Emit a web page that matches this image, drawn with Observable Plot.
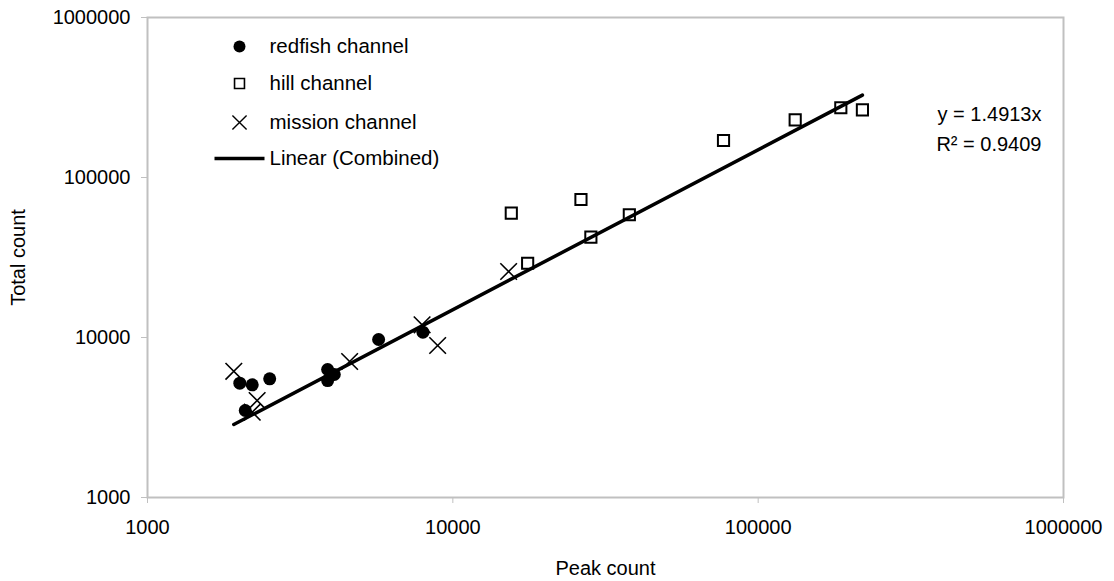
<!DOCTYPE html>
<html><head><meta charset="utf-8">
<script src="https://cdn.jsdelivr.net/npm/d3@7"></script>
<script src="https://cdn.jsdelivr.net/npm/@observablehq/plot@0.6"></script>
<style>
body{margin:0;background:#fff;}
svg{font-family:"Liberation Sans",Arial,sans-serif;}
</style>
</head><body><div id="chart"></div>
<script>
// Series data (peak count, total count)
const redfishPeak  = [2006, 2203, 2513, 2090, 3890, 3890, 4090, 5714, 7980];
const redfishTotal = [5180, 5058, 5518, 3498, 6310, 5382, 5870, 9716, 10790];

const hillPeak  = [15540, 17580, 26280, 28320, 37850, 77000, 132200, 186500, 219500];
const hillTotal = [59840, 29100, 72870, 42360, 58470, 170300, 229400, 272700, 264800];

const missionPeak  = [1917, 2286, 2203, 4592, 7930, 8918, 15230];
const missionTotal = [6150, 4036, 3414, 7079, 12000, 8913, 25850];

const seriesNames = ["redfish channel", "hill channel", "mission channel", "Linear (Combined)"];
const trendSlope = 1.4913;
const trendLabel = "y = 1.4913x";
const r2Label = "R\u00B2 = 0.9409";

const axisTicks = [1000, 10000, 100000, 1000000];
const xTitle = "Peak count";
const yTitle = "Total count";

const rows = (xs, ys) => xs.map((x, i) => ({x, y: ys[i]}));
const redfish = rows(redfishPeak, redfishTotal);
const hill = rows(hillPeak, hillTotal);
const mission = rows(missionPeak, missionTotal);
const allPeak = [...redfishPeak, ...hillPeak, ...missionPeak];
const xMin = d3.min(allPeak), xMax = d3.max(allPeak);
const trend = [xMin, xMax].map(x => ({x, y: trendSlope * x}));

const lineSymbol = {draw(ctx, size) { ctx.moveTo(-25, 0); ctx.lineTo(25, 0); }};

const FS = 20;
const LFS = 20.5;
const legendX = 92;
const legendRows = [29, 66, 105, 141];

const plot = Plot.plot({
  width: 1114,
  height: 581,
  marginLeft: 147,
  marginRight: 51,
  marginTop: 17,
  marginBottom: 84,
  style: {fontSize: FS + "px", fontFamily: '"Liberation Sans", Arial, sans-serif', background: "#fff", color: "#000"},
  x: {type: "log", domain: [1000, 1000000]},
  y: {type: "log", domain: [1000, 1000000]},
  marks: [
    Plot.frame({stroke: "#c0c0c0", strokeWidth: 2}),
    Plot.axisX({ticks: axisTicks, tickFormat: d => String(d), tickSize: 6, tickPadding: 16, stroke: "#c0c0c0", fill: "#000", label: null, fontSize: FS}),
    Plot.axisY({ticks: axisTicks, tickFormat: d => String(d), tickSize: 6, tickPadding: 11, stroke: "#c0c0c0", fill: "#000", label: null, fontSize: FS}),
    Plot.text([xTitle], {frameAnchor: "bottom", dy: 71, text: d => d, fontSize: FS, lineAnchor: "middle", textAnchor: "middle"}),
    Plot.text([yTitle], {frameAnchor: "left", dx: -129, rotate: -90, text: d => d, fontSize: FS, lineAnchor: "middle", textAnchor: "middle"}),
    Plot.line(trend, {x: "x", y: "y", stroke: "#000", strokeWidth: 3.5}),
    Plot.dot(hill, {x: "x", y: "y", symbol: "square", r: 6.3, stroke: "#000", strokeWidth: 2, fill: "none"}),
    Plot.dot(redfish, {x: "x", y: "y", symbol: "circle", r: 6.5, fill: "#000", stroke: "none"}),
    Plot.dot(mission, {x: "x", y: "y", symbol: "times", r: 7.6, stroke: "#000", strokeWidth: 1.6}),
    // legend
    Plot.dot([0], {frameAnchor: "top-left", dx: legendX, dy: legendRows[0], symbol: "circle", r: 6, fill: "#000", stroke: "none"}),
    Plot.dot([0], {frameAnchor: "top-left", dx: legendX, dy: legendRows[1], symbol: "square", r: 5.6, stroke: "#000", strokeWidth: 1.6, fill: "none"}),
    Plot.dot([0], {frameAnchor: "top-left", dx: legendX, dy: legendRows[2], symbol: "times", r: 6.5, stroke: "#000", strokeWidth: 1.4}),
    Plot.dot([0], {frameAnchor: "top-left", dx: legendX, dy: legendRows[3], symbol: lineSymbol, stroke: "#000", strokeWidth: 3.5}),
    ...seriesNames.map((name, i) => Plot.text([name], {frameAnchor: "top-left", dx: legendX + 30, dy: legendRows[i], text: d => d, textAnchor: "start", lineAnchor: "middle", fontSize: LFS})),
    // regression annotation
    Plot.text([trendLabel], {frameAnchor: "top-right", dx: -22, dy: 97, text: d => d, textAnchor: "end", lineAnchor: "middle", fontSize: FS}),
    Plot.text([r2Label], {frameAnchor: "top-right", dx: -22, dy: 127, text: d => d, textAnchor: "end", lineAnchor: "middle", fontSize: FS})
  ]
});
document.getElementById("chart").appendChild(plot);
</script>
</body></html>
